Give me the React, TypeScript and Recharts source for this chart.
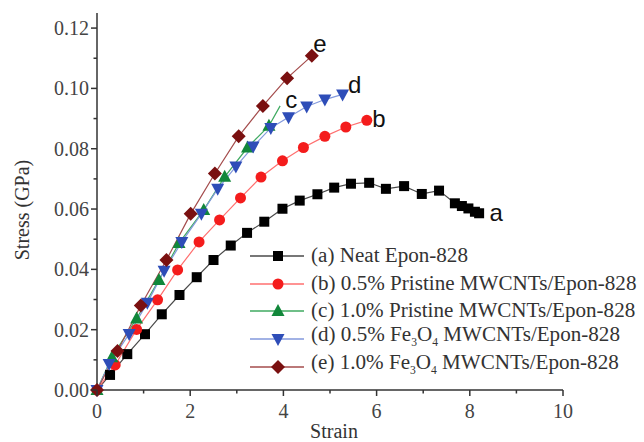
import { LineChart, Line, XAxis, YAxis, Label, LabelList } from 'recharts';

// strain / stress (GPa)
const strainA = [0, 0.28, 0.65, 1.03, 1.39, 1.77, 2.14, 2.5, 2.87, 3.22, 3.59, 3.98, 4.35, 4.73, 5.09, 5.45, 5.84, 6.2, 6.59, 6.97, 7.34, 7.68, 7.83, 7.97, 8.11, 8.2];
const stressA = [0, 0.005, 0.0119, 0.0185, 0.0251, 0.0315, 0.0374, 0.0431, 0.0479, 0.0521, 0.0558, 0.0601, 0.0628, 0.0649, 0.0671, 0.0684, 0.0687, 0.0667, 0.0676, 0.065, 0.0661, 0.0619, 0.061, 0.0602, 0.0591, 0.0586];

const strainB = [0, 0.39, 0.85, 1.3, 1.73, 2.19, 2.63, 3.08, 3.52, 3.98, 4.43, 4.89, 5.34, 5.79];
const stressB = [0, 0.0083, 0.0201, 0.0299, 0.0398, 0.0491, 0.0564, 0.0637, 0.0706, 0.076, 0.0804, 0.0841, 0.0872, 0.0894];

const strainC = [0, 0.32, 0.85, 1.33, 1.76, 2.29, 2.74, 3.23, 3.69, 3.93];
const stressC = [0, 0.0109, 0.0237, 0.0365, 0.0487, 0.0597, 0.0707, 0.0804, 0.0876, 0.0942];

const strainD = [0, 0.26, 0.69, 1.08, 1.44, 1.82, 2.24, 2.59, 2.98, 3.35, 3.73, 4.11, 4.5, 4.89, 5.27];
const stressD = [0, 0.0086, 0.0186, 0.0289, 0.0395, 0.0491, 0.0584, 0.0667, 0.0741, 0.0807, 0.0869, 0.0904, 0.094, 0.0963, 0.098];

const strainE = [0, 0.44, 0.94, 1.49, 2.01, 2.53, 3.04, 3.56, 4.08, 4.61];
const stressE = [0, 0.0129, 0.028, 0.0431, 0.0584, 0.0718, 0.0841, 0.0942, 0.1034, 0.1108];

const legendNames = [
  '(a) Neat Epon-828',
  '(b) 0.5% Pristine MWCNTs/Epon-828',
  '(c) 1.0% Pristine MWCNTs/Epon-828',
  '(d) 0.5% Fe3O4 MWCNTs/Epon-828',
  '(e) 1.0% Fe3O4 MWCNTs/Epon-828',
];
const curveTags = ['a', 'b', 'c', 'd', 'e'];

const xTicks = [0, 1, 2, 3, 4, 5, 6, 7, 8, 9, 10];
const yTicks = [0, 0.01, 0.02, 0.03, 0.04, 0.05, 0.06, 0.07, 0.08, 0.09, 0.1, 0.11, 0.12];

const zip = (xs: number[], ys: number[]) => xs.map((x, i) => ({ strain: x, stress: ys[i] }));

const SERIF = "'Liberation Serif', 'Times New Roman', serif";
const SANS = "'Liberation Sans', Arial, sans-serif";

const series = [
  { data: zip(strainA, stressA), shape: 'square', marker: '#000000', line: '#4a4a4a', dx: 17, dy: -1, lastDot: true },
  { data: zip(strainB, stressB), shape: 'circle', marker: '#f41c1c', line: '#ff6f6f', dx: 12, dy: -2, lastDot: true },
  { data: zip(strainC, stressC), shape: 'up', marker: '#11873a', line: '#3faa60', dx: 11, dy: -6, lastDot: false },
  { data: zip(strainD, stressD), shape: 'down', marker: '#2e4db8', line: '#8399dc', dx: 12, dy: -10, lastDot: true },
  { data: zip(strainE, stressE), shape: 'diamond', marker: '#7a1010', line: '#a44c4c', dx: 8, dy: -12, lastDot: true },
];

function Marker({ cx, cy, shape, fill }: { cx: number; cy: number; shape: string; fill: string }) {
  if (shape === 'square') return <rect x={cx - 5} y={cy - 5} width={10} height={10} fill={fill} />;
  if (shape === 'circle') return <circle cx={cx} cy={cy} r={5.5} fill={fill} />;
  if (shape === 'up')
    return <polygon points={`${cx},${cy - 7} ${cx - 6.5},${cy + 5} ${cx + 6.5},${cy + 5}`} fill={fill} />;
  if (shape === 'down')
    return <polygon points={`${cx - 6.5},${cy - 5} ${cx + 6.5},${cy - 5} ${cx},${cy + 7}`} fill={fill} />;
  return <polygon points={`${cx},${cy - 7} ${cx + 7},${cy} ${cx},${cy + 7} ${cx - 7},${cy}`} fill={fill} />;
}

function YTick(props: any) {
  const { x, y, payload } = props;
  const v = payload.value;
  const major = Math.round(v * 100) % 2 === 0;
  return (
    <g>
      <line x1={x} x2={x - (major ? 6 : 3.5)} y1={y} y2={y} stroke="#333" strokeWidth={1.5} />
      {major && (
        <text x={x - 8} y={y} textAnchor="end" dominantBaseline="central" fontSize={20} fontFamily={SERIF} fill="#444">
          {v.toFixed(2)}
        </text>
      )}
    </g>
  );
}

function XTick(props: any) {
  const { x, y, payload } = props;
  const v = payload.value;
  const major = v % 2 === 0;
  return (
    <g>
      <line x1={x} x2={x} y1={y} y2={y + (major ? 6 : 3.5)} stroke="#333" strokeWidth={1.5} />
      {major && (
        <text x={x} y={y + 21} textAnchor="middle" dominantBaseline="central" fontSize={20} fontFamily={SERIF} fill="#444">
          {v}
        </text>
      )}
    </g>
  );
}

function LegendText({ name }: { name: string }) {
  const parts = name.split('Fe3O4');
  if (parts.length === 1) return <>{name}</>;
  return (
    <>
      {parts[0]}Fe<sub style={{ fontSize: '0.55em' }}>3</sub>O<sub style={{ fontSize: '0.55em' }}>4</sub>
      {parts[1]}
    </>
  );
}

export default function App() {
  return (
    <div style={{ position: 'absolute', left: 0, top: 0, width: 644, height: 442, overflow: 'hidden', background: '#fff' }}>
      <LineChart width={644} height={442} margin={{ top: 13, right: 81, bottom: 22, left: 37 }}>
        <XAxis
          type="number"
          dataKey="strain"
          domain={[0, 10]}
          ticks={xTicks}
          interval={0}
          height={30}
          tickSize={0}
          tickMargin={0}
          tickLine={false}
          axisLine={{ stroke: '#333', strokeWidth: 1.5 }}
          tick={<XTick />}
        >
          <Label
            content={() => (
              <text x={334} y={431} textAnchor="middle" dominantBaseline="central" fontSize={20} fontFamily={SERIF} fill="#333">
                Strain
              </text>
            )}
          />
        </XAxis>
        <YAxis
          type="number"
          dataKey="stress"
          domain={[0, 0.125]}
          ticks={yTicks}
          interval={0}
          width={60}
          tickSize={0}
          tickMargin={0}
          tickLine={false}
          axisLine={{ stroke: '#333', strokeWidth: 1.5 }}
          tick={<YTick />}
        >
          <Label
            content={() => (
              <text
                x={22}
                y={210}
                textAnchor="middle"
                dominantBaseline="central"
                fontSize={20}
                fontFamily={SERIF}
                fill="#333"
                transform="rotate(-90 22 210)"
              >
                Stress (GPa)
              </text>
            )}
          />
        </YAxis>
        {series.map((s, si) => {
          const last = s.data.length - 1;
          return (
            <Line
              key={curveTags[si]}
              data={s.data}
              dataKey="stress"
              type="linear"
              stroke={s.line}
              strokeWidth={1.2}
              isAnimationActive={false}
              activeDot={false}
              dot={(p: any) =>
                p.index === last && !s.lastDot ? (
                  <g key={`d${si}-${p.index}`} />
                ) : (
                  <Marker key={`d${si}-${p.index}`} cx={p.cx} cy={p.cy} shape={s.shape} fill={s.marker} />
                )
              }
            >
              <LabelList
                dataKey="stress"
                content={(p: any) =>
                  p.index === last ? (
                    <text
                      x={p.x + s.dx}
                      y={p.y + s.dy}
                      textAnchor="middle"
                      dominantBaseline="central"
                      fontSize={24}
                      fontFamily={SANS}
                      fill="#111"
                    >
                      {curveTags[si]}
                    </text>
                  ) : null
                }
              />
            </Line>
          );
        })}
      </LineChart>
      <div style={{ position: 'absolute', left: 250, top: 242, fontFamily: SERIF, fontSize: 21.1, color: '#333' }}>
        {series.map((s, si) => (
          <div key={curveTags[si]} style={{ display: 'flex', alignItems: 'center', height: 27.7, whiteSpace: 'nowrap' }}>
            <svg width={56} height={20} style={{ flex: 'none' }}>
              <line x1={0} x2={54} y1={10} y2={10} stroke={s.line} strokeWidth={1.5} />
              <Marker cx={28} cy={10} shape={s.shape} fill={s.marker} />
            </svg>
            <span style={{ marginLeft: 5, lineHeight: '27.7px' }}>
              <LegendText name={legendNames[si]} />
            </span>
          </div>
        ))}
      </div>
    </div>
  );
}
